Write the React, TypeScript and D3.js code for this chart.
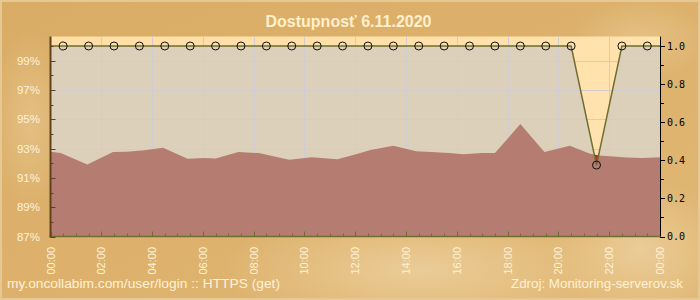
import React from "react";
import * as d3 from "d3";

const TITLE = "Dostupnosť 6.11.2020";
const FOOT_LEFT = "my.oncollabim.com/user/login :: HTTPS (get)";
const FOOT_RIGHT = "Zdroj: Monitoring-serverov.sk";

// availability samples (hour centre, value 0..1)
const availHours = [0.5, 1.5, 2.5, 3.5, 4.5, 5.5, 6.5, 7.5, 8.5, 9.5, 10.5, 11.5, 12.5, 13.5, 14.5, 15.5, 16.5, 17.5, 18.5, 19.5, 20.5, 21.5, 22.5, 23.5];
const availValues = [1, 1, 1, 1, 1, 1, 1, 1, 1, 1, 1, 1, 1, 1, 1, 1, 1, 1, 1, 1, 1, 0.375, 1, 1];

// brown area series (left axis, %)
const areaHours = [0, 0.4, 1.45, 2.46, 3.0, 3.7, 4.43, 5.4, 6.07, 6.5, 7.4, 8.2, 9.4, 10.3, 11.3, 12.1, 12.6, 13.5, 14.4, 15.0, 15.7, 16.25, 17.0, 17.5, 18.5, 19.45, 20.45, 21.25, 21.6, 22.7, 23.3, 24];
const areaValues = [92.78, 92.69, 91.91, 92.76, 92.78, 92.89, 93.05, 92.3, 92.35, 92.32, 92.76, 92.69, 92.23, 92.41, 92.28, 92.64, 92.91, 93.19, 92.82, 92.76, 92.69, 92.62, 92.69, 92.69, 94.67, 92.76, 93.19, 92.64, 92.52, 92.39, 92.35, 92.41];

const leftTicks = [87, 89, 91, 93, 95, 97, 99];
const leftMinor = [88, 90, 92, 94, 96, 98, 100];
const rightTicks = [0, 0.2, 0.4, 0.6, 0.8, 1.0];
const rightMinor = [0.1, 0.3, 0.5, 0.7, 0.9];
const xLabels = ["00:00", "02:00", "04:00", "06:00", "08:00", "10:00", "12:00", "14:00", "16:00", "18:00", "20:00", "22:00", "00:00"];

export default function App() {
  const W = 700, H = 300;
  const L = 50.5, R = 660, T = 36.5, B = 236.5;
  const x = d3.scaleLinear().domain([0, 24]).range([L, R]);
  const yL = d3.scaleLinear().domain([87, 100]).range([B, 46]);
  const yR = d3.scaleLinear().domain([0, 1]).range([B, 46]);

  const availPts: [number, number][] = [[0, 1], ...availHours.map((h, i) => [h, availValues[i]] as [number, number]), [24, 1]];
  const availArea = d3.area<[number, number]>().x(d => x(d[0])).y0(B).y1(d => yR(d[1]))(availPts) || "";
  const availAbove = d3.area<[number, number]>().x(d => x(d[0])).y0(T).y1(d => yR(d[1]))(availPts) || "";
  const availLine = d3.line<[number, number]>().x(d => x(d[0])).y(d => yR(d[1]))(availPts) || "";

  const brownPts = areaHours.map((h, i) => [h, areaValues[i]] as [number, number]);
  const brownArea = d3.area<[number, number]>().x(d => x(d[0])).y0(B).y1(d => yL(d[1]))(brownPts) || "";

  const gridX = d3.range(2, 24, 2);
  const gridY = [89, 91, 93, 95, 97, 99];
  const minorX = d3.range(0, 24.01, 0.5);

  const cream = "#FFF1D6";
  const axisBrown = "#5E4220";
  const olive = "#6E6E30";

  return (
    <svg width={W} height={H} style={{ position: "absolute", left: 0, top: 0 }} fontFamily="Liberation Sans, Arial, sans-serif">
      <defs>
        <linearGradient id="bg" x1="0" y1="0" x2="1" y2="1">
          <stop offset="0" stopColor="#DAAD66" />
          <stop offset="0.5" stopColor="#DDB16C" />
          <stop offset="1" stopColor="#E0B874" />
        </linearGradient>
        <radialGradient id="glow1" cx="0.5" cy="0.5" r="0.5">
          <stop offset="0" stopColor="#F0D6A8" stopOpacity="0.7" />
          <stop offset="1" stopColor="#F0D6A8" stopOpacity="0" />
        </radialGradient>
        <linearGradient id="plotbg" x1="0" y1="0" x2="1" y2="1">
          <stop offset="0" stopColor="#FFDFA6" />
          <stop offset="1" stopColor="#FFE4B2" />
        </linearGradient>
        <clipPath id="aboveAvail">
          <path d={availAbove} />
        </clipPath>
      </defs>
      <rect x={0} y={0} width={W} height={H} fill="url(#bg)" />
      <ellipse cx={420} cy={270} rx={200} ry={60} fill="url(#glow1)" />
      <ellipse cx={640} cy={250} rx={90} ry={70} fill="url(#glow1)" />
      <ellipse cx={30} cy={120} rx={40} ry={90} fill="url(#glow1)" opacity={0.6} />
      <ellipse cx={640} cy={40} rx={70} ry={40} fill="url(#glow1)" opacity={0.6} />
      <rect x={1} y={1} width={W - 2} height={H - 2} fill="none" stroke="#E6C894" strokeWidth={2} />

      <text x={348.5} y={27} textAnchor="middle" fontSize={16} fontWeight="bold" fill="#FFF0CC">{TITLE}</text>

      {/* plot background */}
      <rect x={L} y={T} width={R - L} height={B - T} fill="url(#plotbg)" />
      <path d={availArea} fill="#DDD0BA" />
      {/* grid */}
      {gridX.map(h => (
        <line key={"gx" + h} x1={Math.round(x(h)) + 0.5} x2={Math.round(x(h)) + 0.5} y1={T} y2={B} stroke="#D2CCD2" strokeWidth={1} />
      ))}
      {gridY.map(v => (
        <line key={"gy" + v} x1={L} x2={R} y1={Math.round(yL(v)) + 0.5} y2={Math.round(yL(v)) + 0.5} stroke="#D2CCD2" strokeWidth={1} />
      ))}
      <path d={brownArea} fill="#B57D72" />
      <path d={brownArea} fill="#B0361E" clipPath="url(#aboveAvail)" />

      {/* availability line */}
      <path d={availLine} fill="none" stroke={olive} strokeWidth={1.5} />
      {availHours.map((h, i) => (
        <circle key={"c" + i} cx={x(h)} cy={yR(availValues[i])} r={4} fill="none" stroke="#111" strokeWidth={1} />
      ))}

      {/* bottom axis */}
      <line x1={L - 1} x2={R} y1={B} y2={B} stroke={olive} strokeWidth={1.5} />
      {minorX.map((h, i) => {
        const major = i % 4 === 0;
        const xx = Math.round(x(h)) + 0.5;
        return <line key={"tx" + i} x1={xx} x2={xx} y1={B} y2={B - (major ? 5 : 3)} stroke={olive} strokeWidth={1} />;
      })}
      {xLabels.map((t, i) => (
        <text key={"xl" + i} transform={`translate(${x(i * 2) + 4},247) rotate(-90)`} textAnchor="end" fontSize={11} fill={cream}>{t}</text>
      ))}

      {/* left axis */}
      <line x1={L} x2={L} y1={T} y2={B + 1} stroke={axisBrown} strokeWidth={2} />
      {leftTicks.map(v => (
        <g key={"lt" + v}>
          <line x1={L} x2={L + 5} y1={Math.round(yL(v)) + 0.5} y2={Math.round(yL(v)) + 0.5} stroke={axisBrown} strokeWidth={1} />
          <text x={40} y={yL(v) + 4} textAnchor="end" fontSize={11.5} fill={cream}>{v + "%"}</text>
        </g>
      ))}
      {leftMinor.map(v => (
        <line key={"lm" + v} x1={L} x2={L + 3} y1={Math.round(yL(v)) + 0.5} y2={Math.round(yL(v)) + 0.5} stroke={axisBrown} strokeWidth={1} />
      ))}

      {/* right axis */}
      <line x1={R + 0.5} x2={R + 0.5} y1={T} y2={B} stroke="#000" strokeWidth={1} />
      {rightTicks.map(v => (
        <g key={"rt" + v}>
          <line x1={R} x2={R + 5} y1={Math.round(yR(v)) + 0.5} y2={Math.round(yR(v)) + 0.5} stroke="#000" strokeWidth={1} />
          <text x={667} y={yR(v) + 3.5} fontSize={10} fontFamily="DejaVu Sans Mono, monospace" fill="#000">{v.toFixed(1)}</text>
        </g>
      ))}
      {rightMinor.map(v => (
        <line key={"rm" + v} x1={R} x2={R + 4} y1={Math.round(yR(v)) + 0.5} y2={Math.round(yR(v)) + 0.5} stroke="#000" strokeWidth={1} />
      ))}

      {/* footer */}
      <text x={7} y={288} fontSize={12} fill={cream} textLength={273} lengthAdjust="spacingAndGlyphs">{FOOT_LEFT}</text>
      <text x={511} y={288} fontSize={12} fill={cream} textLength={172} lengthAdjust="spacingAndGlyphs">{FOOT_RIGHT}</text>
    </svg>
  );
}
